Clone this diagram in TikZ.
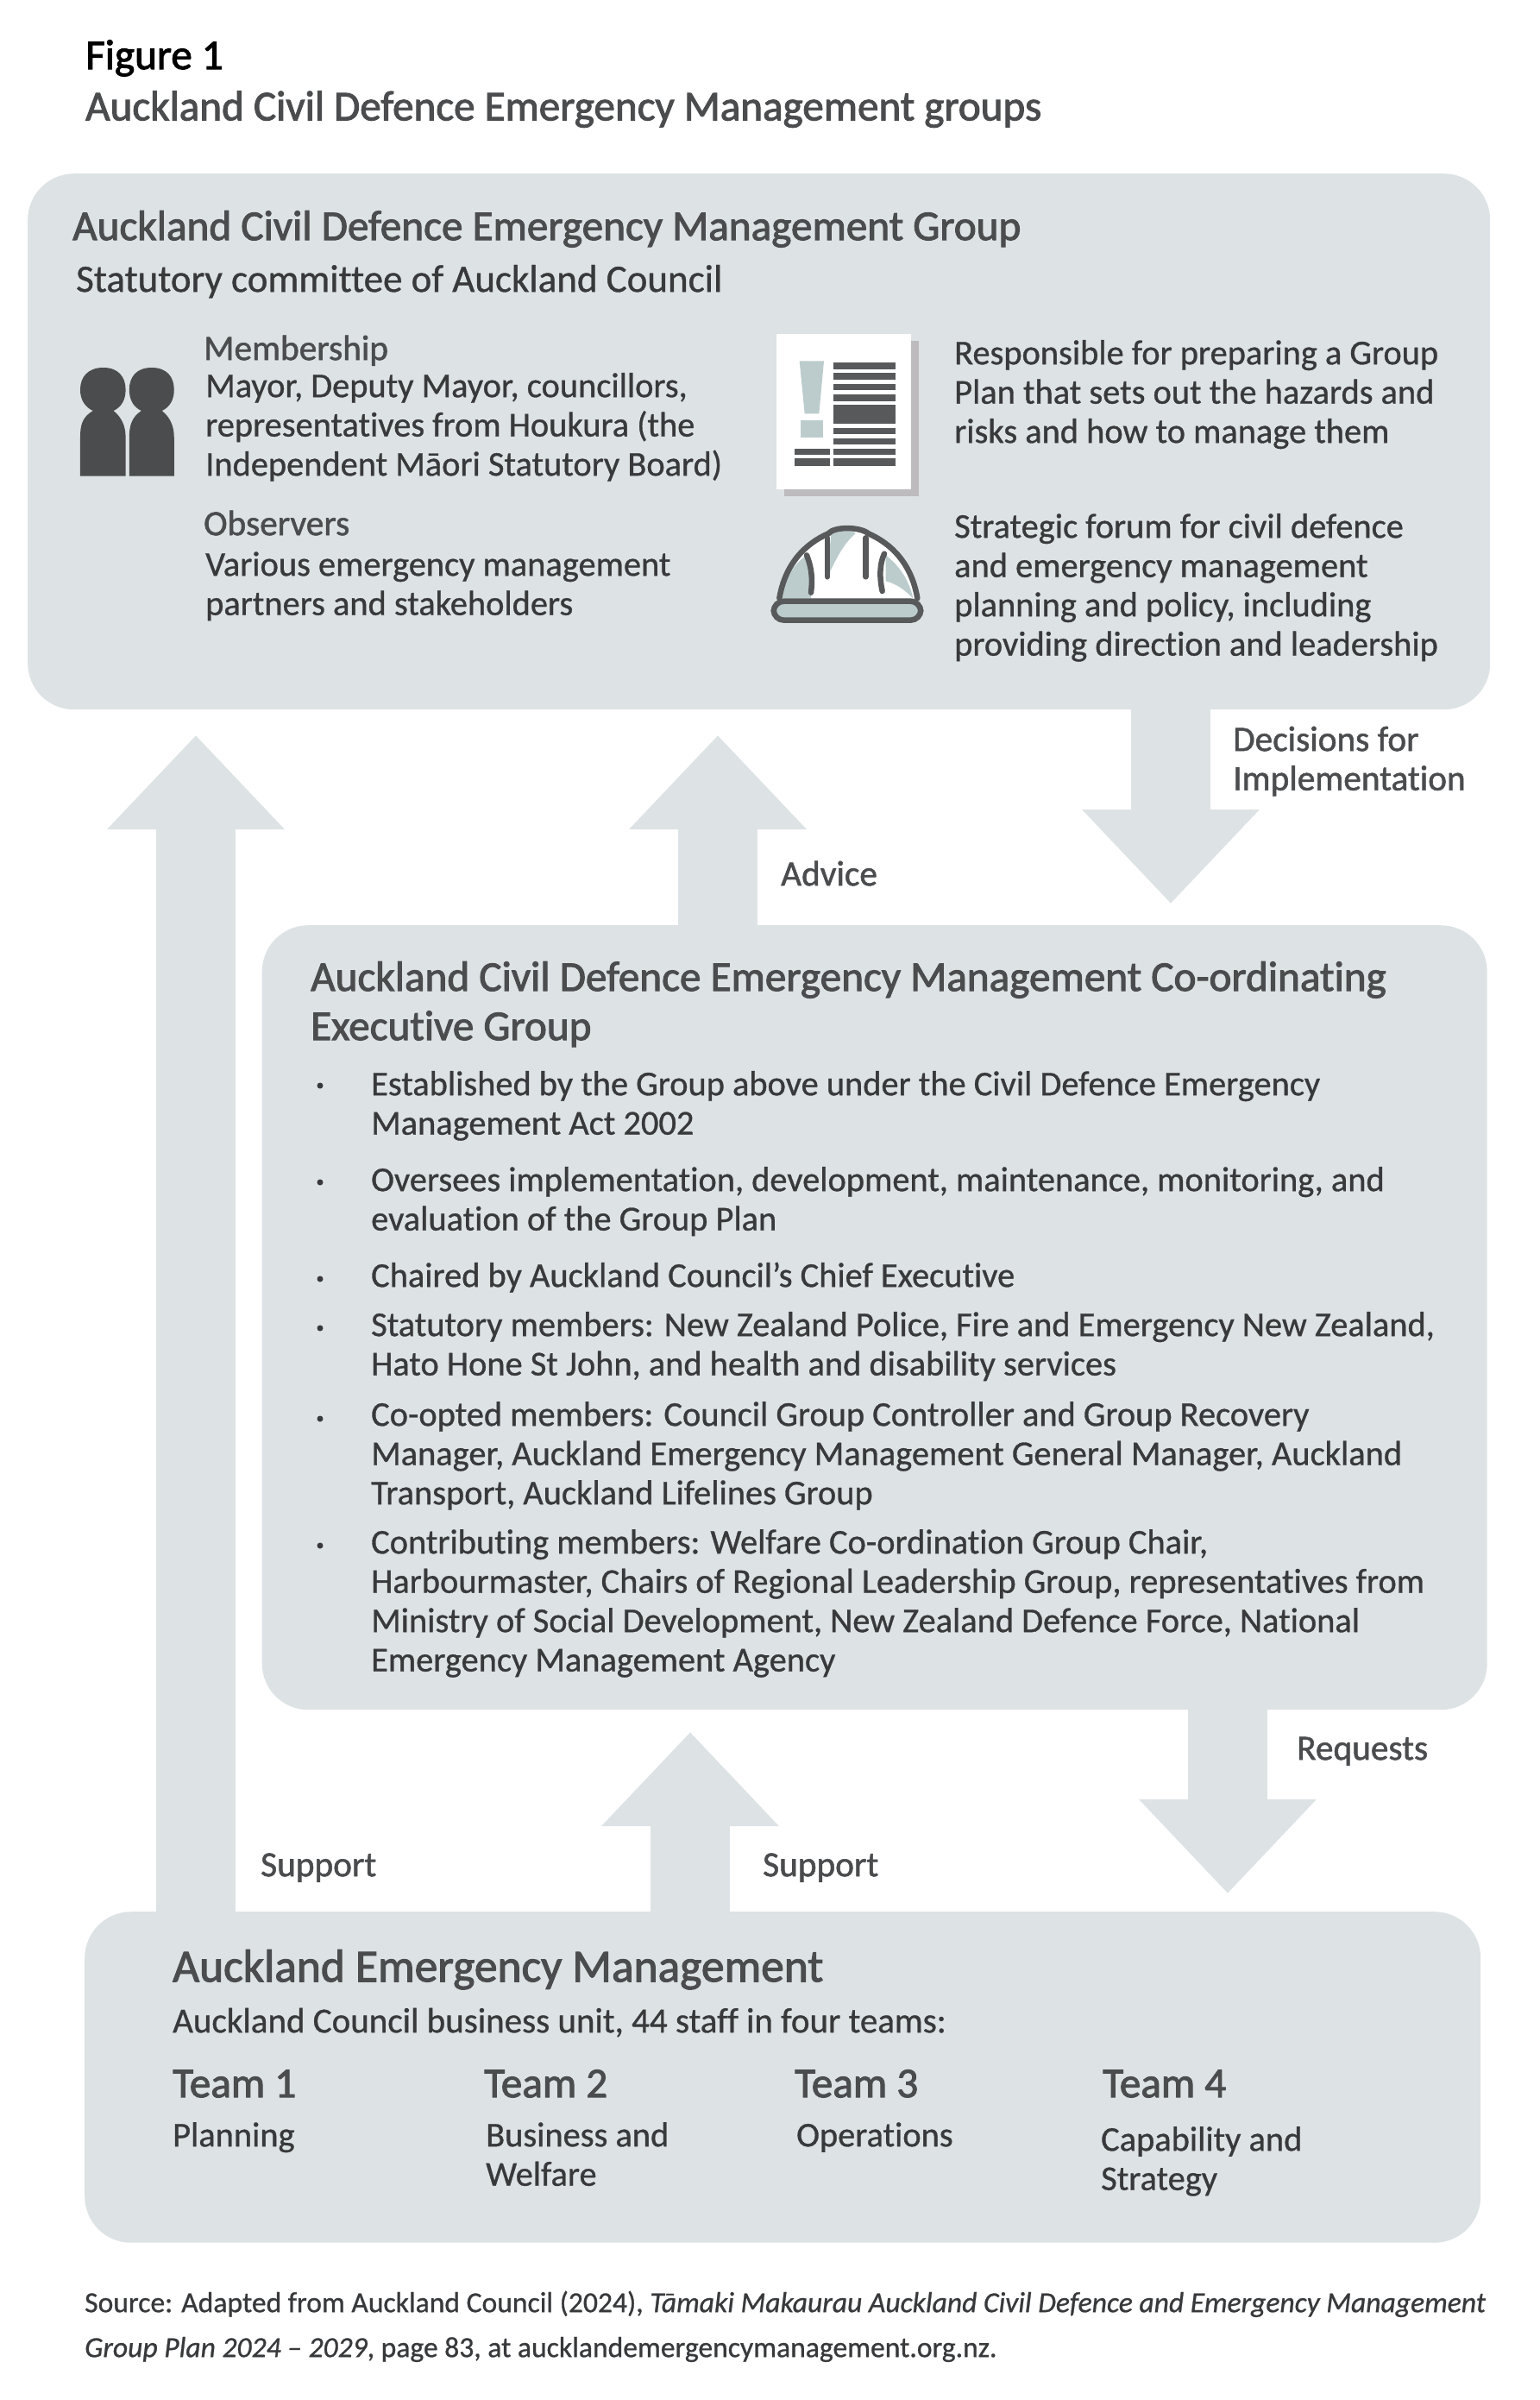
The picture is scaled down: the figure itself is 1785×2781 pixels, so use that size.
\documentclass[tikz,border=0pt]{standalone}
\usepackage{fontspec}
\usepackage{tikz}
\usetikzlibrary{arrows.meta}
\setmainfont[FakeBold=0.8,Ligatures=NoCommon]{Carlito}
\newfontfamily\headfont[FakeBold=2,Ligatures=NoCommon]{Carlito}
\newfontfamily\labelfont[FakeBold=1.3,Ligatures=NoCommon]{Carlito}
\definecolor{panelgray}{HTML}{DDE2E4}
\definecolor{iconpale}{HTML}{BCCCCD}
\definecolor{icondark}{HTML}{58595B}
\definecolor{headgray}{HTML}{4A4C4E}
\definecolor{bodygray}{HTML}{38393B}
\definecolor{shadowgray}{HTML}{BDBBBD}
\tikzset{
  panel/.style={fill=panelgray, rounded corners=53.6pt, anchor=north west, inner sep=0pt},
  bigarrow/.style={draw=panelgray, line width=92.5pt, -{Triangle[length=109pt,width=199pt]}},
  bodytext/.style={anchor=north west, inner sep=0pt, align=left, yshift=31.85pt, text=bodygray, font=\fontsize{40.4}{45.5}\selectfont},
  subhead/.style={bodytext, text=headgray, font=\labelfont\fontsize{41.3}{45.5}\selectfont},
  heading/.style={anchor=north west, inner sep=0pt, align=left, yshift=39.9pt, text=headgray, font=\headfont\fontsize{49.2}{57}\selectfont},
  figtitle/.style={anchor=north west, inner sep=0pt, yshift=31.85pt, text=headgray, font=\headfont\fontsize{49.1}{45.5}\selectfont},
  sourcetext/.style={anchor=north west, inner sep=0pt, align=left, yshift=36.4pt, text=bodygray, font=\fontsize{33.6}{52}\selectfont},
  bulletdot/.style={circle, fill=bodygray, inner sep=0pt, minimum size=7pt},
}
\begin{document}
\begin{tikzpicture}[x=1pt, y=-1pt]
\useasboundingbox (0,0) rectangle (1785,2781);

\node[panel, minimum width=1695pt, minimum height=621pt] (groupBox) at (32,201) {};
\node[panel, minimum width=1420pt, minimum height=909pt] (execBox) at (303.5,1072) {};
\node[panel, minimum width=1618pt, minimum height=383.5pt] (teamBox) at (98,2215) {};

\coordinate (supportTip) at (227,852);
\coordinate (adviceTip) at (832,852);
\coordinate (decisionTip) at (1357,1047);
\coordinate (requestTip) at (1423,2194);
\coordinate (teamTip) at (800,2007);

\draw[bigarrow] (teamBox.north -| supportTip) -- (supportTip);
\draw[bigarrow] (execBox.north -| adviceTip) -- (adviceTip);
\draw[bigarrow] (groupBox.south -| decisionTip) -- (decisionTip);
\draw[bigarrow] (execBox.south -| requestTip) -- (requestTip);
\draw[bigarrow] (teamBox.north -| teamTip) -- (teamTip);

% title
\node[figtitle, text=black] (figNum) at (99,78) {\strut Figure 1};
\node[figtitle] (figName) at (99,137) {\strut Auckland Civil Defence Emergency Management groups};

% top panel
\node[heading] (groupHead) at (84,278) {\strut Auckland Civil Defence Emergency Management Group};
\node[bodytext, font=\fontsize{45}{45.5}\selectfont] (groupSub) at (88,338) {\strut Statutory committee of Auckland Council};
\node[subhead] (memberHead) at (236,417) {\strut Membership};
\node[bodytext] (memberText) at (238,460) {\strut Mayor, Deputy Mayor, councillors,\\representatives from Houkura (the\\Independent Māori Statutory Board)};
\node[subhead] (obsHead) at (236,620) {\strut Observers};
\node[bodytext] (obsText) at (238,667) {\strut Various emergency management\\partners and stakeholders};
\node[bodytext] (planText) at (1106,422) {\strut Responsible for preparing a Group\\Plan that sets out the hazards and\\risks and how to manage them};
\node[bodytext] (forumText) at (1106,623) {\strut Strategic forum for civil defence\\and emergency management\\planning and policy, including\\providing direction and leadership};

% people icon
\begin{scope}[shift={(60,350)}, xscale=0.7018, yscale=1/3]
\fill[icondark!85!black] (85,228) .. controls (60,228) and (47,260) .. (47,305) .. controls (47,340) and (55,365) .. (68,378) .. controls (50,400) and (47,430) .. (47,470) -- (47,605) -- (122,605) -- (122,470) .. controls (122,430) and (115,400) .. (102,378) .. controls (115,365) and (122,340) .. (122,305) .. controls (122,260) and (110,228) .. (85,228) -- cycle;
\fill[icondark!85!black] (165,228) .. controls (140,228) and (128,260) .. (128,305) .. controls (128,340) and (135,365) .. (148,378) .. controls (132,400) and (128,430) .. (128,470) -- (128,605) -- (202,605) -- (202,470) .. controls (202,430) and (195,400) .. (182,378) .. controls (195,365) and (202,340) .. (202,305) .. controls (202,260) and (190,228) .. (165,228) -- cycle;
\end{scope}

% document icon
\begin{scope}[shift={(860,360)}, scale=1/3]
\fill[shadowgray] (146,106) rectangle (614,646);
\fill[white] (120,80) rectangle (588,620);
\fill[iconpale] (200,175) -- (285,175) -- (268,358) -- (218,358) -- cycle;
\fill[iconpale] (203,380) rectangle (282,440);
\fill[icondark] (318,180) rectangle (535,205);
\fill[icondark] (318,216) rectangle (535,241);
\fill[icondark] (318,254) rectangle (535,277);
\fill[icondark] (318,290) rectangle (535,314);
\fill[icondark] (318,326) rectangle (535,394);
\fill[icondark] (318,408) rectangle (535,430);
\fill[icondark] (318,443) rectangle (535,466);
\fill[icondark] (318,479) rectangle (535,502);
\fill[icondark] (318,514) rectangle (535,540);
\fill[icondark] (182,479) rectangle (307,502);
\fill[icondark] (182,514) rectangle (307,540);
\end{scope}

% helmet icon
\begin{scope}[shift={(860,360)}, scale=1/3]
\fill[white] (130,1000) .. controls (150,880) and (220,810) .. (300,775) .. controls (320,750) and (410,750) .. (440,775) .. controls (520,810) and (590,880) .. (610,1000) -- cycle;
\fill[iconpale] (135,1000) .. controls (150,930) and (180,880) .. (225,850) .. controls (245,900) and (245,950) .. (240,1000) -- cycle;
\fill[iconpale] (310,775) .. controls (340,760) and (385,760) .. (395,775) .. controls (350,810) and (320,880) .. (297,925) -- cycle;
\fill[iconpale] (500,940) .. controls (540,950) and (570,975) .. (595,1000) .. controls (580,930) and (540,880) .. (500,850) -- cycle;
\draw[icondark, line width=6.5pt, line cap=round, line join=round] (130,1000) .. controls (150,880) and (220,810) .. (300,775) .. controls (320,750) and (410,750) .. (440,775) .. controls (520,810) and (590,880) .. (610,1000);
\draw[icondark, line width=6.5pt, line cap=round] (225,850) .. controls (245,900) and (245,940) .. (240,980);
\draw[icondark, line width=6.5pt, line cap=round] (297,790) -- (297,925);
\draw[icondark, line width=6.5pt, line cap=round] (430,790) -- (430,925);
\draw[icondark, line width=6.5pt, line cap=round] (495,845) .. controls (478,880) and (478,930) .. (488,975);
\draw[icondark, fill=iconpale, line width=6.5pt, rounded corners=12pt] (110,1010) rectangle (622,1076);
\end{scope}

% labels on arrows
\node[subhead] (decisionLabel) at (1429,870) {\strut Decisions for\\Implementation};
\node[subhead] (adviceLabel) at (905,1026) {\strut Advice};
\node[subhead] (requestLabel) at (1503,2039) {\strut Requests};
\node[subhead] (supportLabelA) at (302,2174) {\strut Support};
\node[subhead] (supportLabelB) at (884,2174) {\strut Support};

% middle panel
\node[heading] (execHead) at (360,1148) {\strut Auckland Civil Defence Emergency Management Co-ordinating\\Executive Group};
\node[bulletdot] (bulletA) at (371,1258) {};
\node[bulletdot] (bulletB) at (371,1370) {};
\node[bulletdot] (bulletC) at (371,1482) {};
\node[bulletdot] (bulletD) at (371,1539) {};
\node[bulletdot] (bulletE) at (371,1644) {};
\node[bulletdot] (bulletF) at (371,1791) {};
\node[bodytext] (execA) at (430,1269) {\strut Established by the Group above under the Civil Defence Emergency\\Management Act 2002};
\node[bodytext] (execB) at (430,1380) {\strut Oversees implementation, development, maintenance, monitoring, and\\evaluation of the Group Plan};
\node[bodytext] (execC) at (430,1491) {\strut Chaired by Auckland Council’s Chief Executive};
\node[bodytext] (execD) at (430,1548) {\strut Statutory members: New Zealand Police, Fire and Emergency New Zealand,\\Hato Hone St John, and health and disability services};
\node[bodytext] (execE) at (430,1652) {\strut Co-opted members: Council Group Controller and Group Recovery\\Manager, Auckland Emergency Management General Manager, Auckland\\Transport, Auckland Lifelines Group};
\node[bodytext] (execF) at (430,1800) {\strut Contributing members: Welfare Co-ordination Group Chair,\\Harbourmaster, Chairs of Regional Leadership Group, representatives from\\Ministry of Social Development, New Zealand Defence Force, National\\Emergency Management Agency};

% bottom panel
\node[heading, font=\headfont\fontsize{53.4}{57}\selectfont] (teamHead) at (200,2296) {\strut Auckland Emergency Management};
\node[bodytext, font=\fontsize{41}{45.5}\selectfont] (teamSub) at (200,2355) {\strut Auckland Council business unit, 44 staff in four teams:};
\node[heading] (teamOne) at (200,2430) {\strut Team 1};
\node[heading] (teamTwo) at (561,2430) {\strut Team 2};
\node[heading] (teamThree) at (921,2430) {\strut Team 3};
\node[heading] (teamFour) at (1278,2430) {\strut Team 4};
\node[bodytext] (teamOneText) at (200,2487) {\strut Planning};
\node[bodytext] (teamTwoText) at (563,2487) {\strut Business and\\Welfare};
\node[bodytext] (teamThreeText) at (923,2487) {\strut Operations};
\node[bodytext] (teamFourText) at (1276,2492) {\strut Capability and\\Strategy};

% source
\node[sourcetext] (sourceText) at (98,2679) {\strut Source: Adapted from Auckland Council (2024), \textit{Tāmaki Makaurau Auckland Civil Defence and Emergency Management}\\\textit{Group Plan 2024 – 2029}, page 83, at aucklandemergencymanagement.org.nz.};
\end{tikzpicture}
\end{document}
